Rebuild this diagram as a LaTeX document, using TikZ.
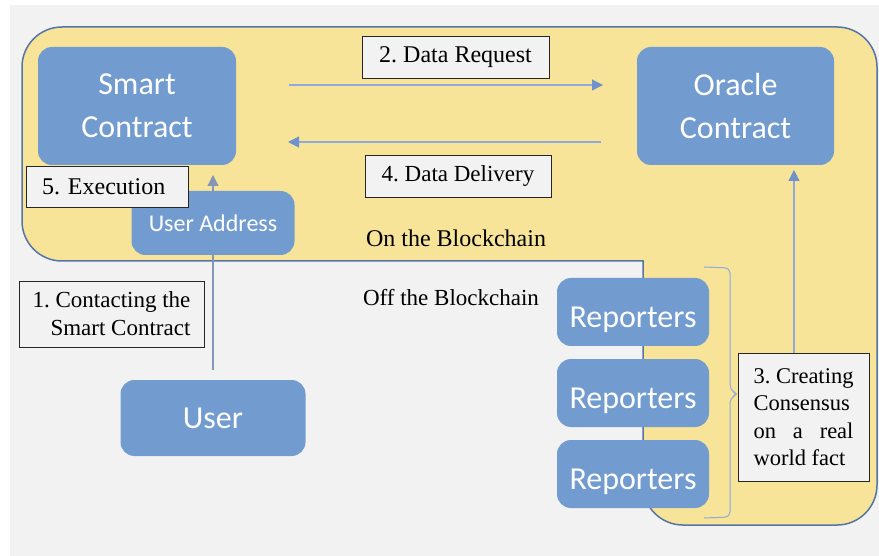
\documentclass[tikz,border=0pt]{standalone}
\usepackage{fontspec}
\setmainfont{Liberation Serif}
\newfontfamily\calibri{Carlito}
\usepackage{calc}
\usepackage{tikz}
\usetikzlibrary{positioning,arrows.meta}
\definecolor{pagegray}{RGB}{242,242,242}
\definecolor{chainyellow}{RGB}{247,228,153}
\definecolor{chainedge}{RGB}{86,117,166}
\definecolor{boxblue}{RGB}{114,155,208}
\definecolor{flowblue}{RGB}{143,170,220}
\definecolor{headblue}{RGB}{112,146,202}
\definecolor{usergray}{RGB}{132,151,181}
\frenchspacing

\begin{document}
\begin{tikzpicture}[x=1pt, y=-1pt, outer sep=0pt, node distance=13pt,
    blockbox/.style={rectangle, rounded corners=14pt, fill=boxblue, text=white, align=center, font=\calibri\fontsize{32}{43}\selectfont},
    reporter/.style={blockbox, minimum width=152pt, minimum height=68pt, text height=30pt, text depth=0pt},
    stepnote/.style={rectangle, draw=black!85, line width=0.8pt, fill=pagegray, inner sep=0pt, font=\fontsize{23}{28}\selectfont},
    flow/.style={draw=flowblue, line width=1.2pt, -{Triangle[length=11pt, width=11pt, color=headblue]}},
    userline/.style={draw=usergray, line width=1.2pt}]
    \fill [white] (0,0) rectangle (879,556);
    \fill [pagegray] (10,5) rectangle (879,556);
    \useasboundingbox (0,0) rectangle (879,556);
    \draw [draw=chainedge, fill=chainyellow, line width=1.5pt, rounded corners=40pt, line cap=rect] (643,261) -- (22,261) -- (22,27) -- (877,27) -- (877,525) -- (643,525) -- (643,261);
    \node [blockbox, minimum width=198pt, minimum height=118pt] (sc) at (137,106) {Smart\\Contract};
    \node [blockbox, minimum width=197pt, minimum height=118pt] (oc) at (735.5,106) {Oracle\\Contract};
    \node [blockbox, minimum width=163pt, minimum height=64pt, font=\calibri\fontsize{24}{29}\selectfont] (ua) at (213,223) {User Address};
    \node [blockbox, minimum width=185pt, minimum height=76pt] (user) at (213,418) {User};
    \node [reporter] (r1) at (633,312) {Reporters};
    \node [reporter, below=of r1] (r2) {Reporters};
    \node [reporter, below=of r2] (r3) {Reporters};
    \node [stepnote, minimum width=162pt, minimum height=41pt, text width=130pt, align=left, font=\fontsize{24}{28}\selectfont] (n5) at (107,186.5) {5. Execution};
    \node [stepnote, minimum width=187pt, minimum height=42pt, font=\fontsize{24}{28}\selectfont] (n2) at (455.5,57) {2. Data Request};
    \node [stepnote, minimum width=186pt, minimum height=42pt] (n4) at (458,176) {4. Data Delivery};
    \node [stepnote, minimum width=185pt, minimum height=66pt, align=right] (n1) at (111.5,314) {1. Contacting the\\Smart Contract};
    \node [stepnote, minimum width=131pt, minimum height=128pt, align=left, font=\fontsize{22.5}{27.5}\selectfont] (n3) at (803.5,417) {3. Creating\\Consensus\\\makebox[\widthof{3. Creating}][s]{on a real}\\world fact};
    \node [font=\fontsize{24}{28}\selectfont] (onchain) at (456,238) {On the Blockchain};
    \node [font=\fontsize{23}{28}\selectfont] (offchain) at (451,298) {Off the Blockchain};
    \draw [flow, shorten <=53pt, shorten >=34pt] ([yshift=21pt]sc.east) -- ([yshift=21pt]oc.west);
    \draw [flow, shorten <=36pt, shorten >=52pt] ([yshift=-36pt]oc.west) -- ([yshift=-36pt]sc.east);
    \draw [userline, shorten <=10pt] (user.north) -- (ua.south);
    \draw [userline, -{Triangle[length=11pt, width=11pt]}, shorten >=10pt] (ua.north) -- (ua.north |- sc.south);
    \draw [flow, shorten >=5pt] ([xshift=-9.5pt]n3.north) -- ([xshift=-9.5pt]n3.north |- oc.south);
    \draw [draw=flowblue, line width=1pt, rounded corners=5pt] (704,267) -- (730,268) -- (730,390) -- (738,394) -- (730,398) -- (730,517) -- (704,518);
\end{tikzpicture}
\end{document}
